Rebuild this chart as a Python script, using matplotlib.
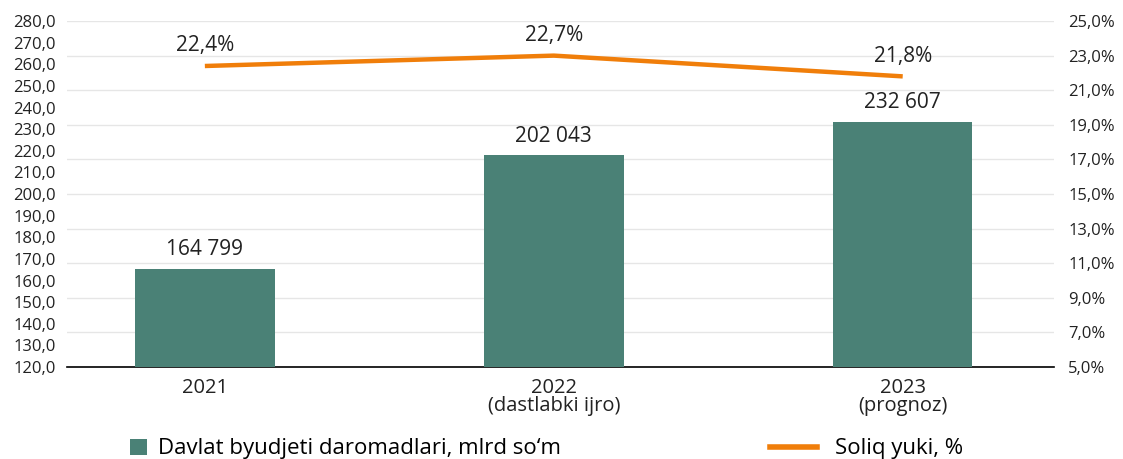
import numpy as np
import matplotlib
matplotlib.use('Agg')
from matplotlib import pyplot as plt
from matplotlib.ticker import FuncFormatter
from matplotlib.patches import Patch
from matplotlib.lines import Line2D

plt.rcParams['font.family'] = ['Open Sans', 'DejaVu Sans']

# Ma'lumotlar
years = ['2021', '2022\n(dastlabki ijro)', '2023\n(prognoz)']
# ustunlar balandligi rasmdagi o'qdan o'qilgan (mlrd so'm, ming)
bar_heights = [165.5, 218.0, 233.5]
bar_labels = ['164 799', '202 043', '232 607']
tax_burden = [22.4, 23.0, 21.8]
tax_labels = ['22,4%', '22,7%', '21,8%']

bar_color = '#4A8176'
line_color = '#F07E0A'

fig = plt.figure(figsize=(11.23, 4.59), dpi=100)
ax = fig.add_axes([0.0597, 0.2004, 0.8793, 0.7538])
ax2 = ax.twinx()

x = np.arange(len(years))

# Ustunlar
ax.bar(x, bar_heights, width=0.40, color=bar_color, zorder=3)
for xi, h, lab in zip(x, bar_heights, bar_labels):
    ax.annotate(lab, (xi, h), xytext=(0, 6), textcoords='offset points',
                ha='center', va='bottom', fontsize=15, color='#222222')

ax.set_ylim(120, 280)
ax.set_yticks(np.arange(120, 281, 10))
ax.yaxis.set_major_formatter(FuncFormatter(lambda v, p: f'{v:.1f}'.replace('.', ',')))
ax.set_xlim(-0.395, 2.435)
ax.set_xticks(x)
ax.set_xticklabels(years, fontsize=14.5, linespacing=0.85, color='#222222')
ax.tick_params(axis='x', length=0, pad=8)
ax.tick_params(axis='y', length=0, pad=8, labelsize=12, labelcolor='#222222')

# Chiziq
ax2.plot(x, tax_burden, color=line_color, linewidth=3.2, zorder=4,
         solid_capstyle='butt')
for xi, v, lab in zip(x, tax_burden, tax_labels):
    ax2.annotate(lab, (xi, v), xytext=(0, 7), textcoords='offset points',
                 ha='center', va='bottom', fontsize=15, color='#222222')

ax2.set_ylim(5, 25)
ax2.set_yticks(np.arange(5, 26, 2))
ax2.yaxis.set_major_formatter(FuncFormatter(lambda v, p: f'{v:.1f}'.replace('.', ',') + '%'))
ax2.tick_params(axis='y', length=0, pad=10, labelsize=12, labelcolor='#222222')
ax2.grid(axis='y', color='#E6E6E6', linewidth=1.0, zorder=0)
ax2.set_axisbelow(True)

ax.set_zorder(ax2.get_zorder() + 1)
ax.patch.set_visible(False)
ax2.patch.set_visible(True)

for a in (ax, ax2):
    for side in ('top', 'left', 'right'):
        a.spines[side].set_visible(False)
ax2.spines['bottom'].set_visible(False)
ax.spines['bottom'].set_color('black')
ax.spines['bottom'].set_linewidth(1.2)

# Legenda
h1 = Patch(facecolor=bar_color, edgecolor='none')
h2 = Line2D([0], [0], color=line_color, linewidth=4)
fig.legend([h1], ['Davlat byudjeti daromadlari, mlrd so‘m'],
           loc='center left', bbox_to_anchor=(0.098, 0.022), frameon=False,
           fontsize=16, handlelength=0.75, handleheight=0.75, handletextpad=0.5)
fig.legend([h2], ['Soliq yuki, %'],
           loc='center left', bbox_to_anchor=(0.668, 0.022), frameon=False,
           fontsize=16, handlelength=2.1, handletextpad=0.8)

fig.savefig('out.png', dpi=100)
